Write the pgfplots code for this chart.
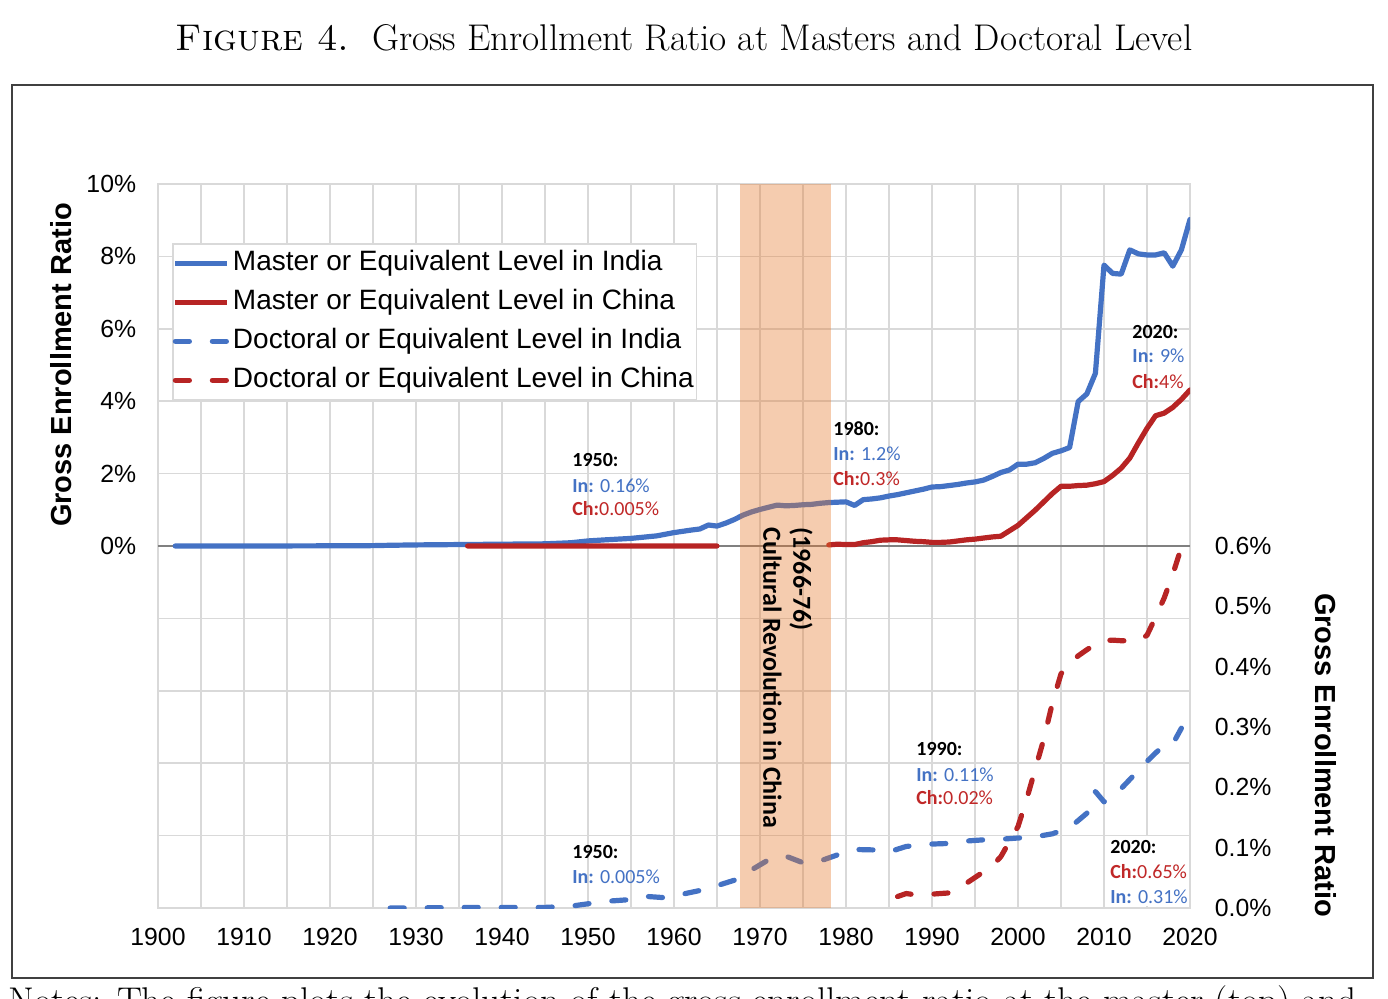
\documentclass[border=0pt]{standalone}
\usepackage{pgfplots}
\pgfplotsset{compat=1.18}
\usepackage{fontspec}
\newfontfamily\arial{Liberation Sans}
\newfontfamily\calibri{Carlito}
\definecolor{inblue}{RGB}{68,114,196}
\definecolor{chred}{RGB}{183,36,36}
\definecolor{chtext}{RGB}{192,40,40}
\definecolor{peach}{RGB}{228,120,45}
\definecolor{gridgray}{RGB}{217,217,217}

\pgfplotstableread{
year val
1902 0
1910 0
1920 0.005
1925 0.01
1927 0.02
1930 0.03
1935 0.04
1940 0.05
1945 0.06
1948 0.09
1950 0.14
1952 0.17
1955 0.21
1958 0.28
1960 0.37
1962 0.44
1963 0.47
1964 0.58
1965 0.55
1966 0.63
1967 0.73
1968 0.85
1969 0.94
1970 1.01
1971 1.07
1972 1.13
1973 1.11
1974 1.12
1975 1.14
1976 1.15
1977 1.18
1978 1.20
1979 1.21
1980 1.22
1981 1.12
1982 1.28
1983 1.30
1984 1.33
1985 1.38
1986 1.42
1987 1.47
1988 1.52
1989 1.57
1990 1.63
1991 1.64
1992 1.67
1993 1.70
1994 1.74
1995 1.77
1996 1.82
1997 1.92
1998 2.03
1999 2.10
2000 2.26
2001 2.26
2002 2.30
2003 2.42
2004 2.56
2005 2.63
2006 2.72
2007 3.99
2008 4.20
2009 4.77
2010 7.76
2011 7.53
2012 7.51
2013 8.18
2014 8.07
2015 8.04
2016 8.04
2017 8.10
2018 7.73
2019 8.18
2020 9.02
}\inmaster

\pgfplotstableread{
year val
1936 0.0
1945 0.0
1955 0.0
1965 0.0
1970 nan
1978 0.03
1979 0.05
1980 0.04
1981 0.04
1982 0.09
1983 0.12
1984 0.16
1985 0.17
1986 0.17
1987 0.15
1988 0.13
1989 0.12
1990 0.10
1991 0.10
1992 0.11
1993 0.14
1994 0.17
1995 0.19
1996 0.22
1997 0.25
1998 0.27
1999 0.42
2000 0.57
2001 0.78
2002 0.99
2003 1.22
2004 1.45
2005 1.65
2006 1.65
2007 1.67
2008 1.68
2009 1.72
2010 1.78
2011 1.95
2012 2.15
2013 2.43
2014 2.85
2015 3.25
2016 3.60
2017 3.67
2018 3.83
2019 4.05
2020 4.31
}\chmaster

\pgfplotstableread{
year val
1927 0.000
1930 0.000
1935 0.001
1940 0.001
1945 0.001
1948 0.003
1950 0.007
1952 0.011
1955 0.014
1957 0.019
1959 0.017
1961 0.023
1963 0.029
1965 0.037
1967 0.046
1969 0.063
1971 0.080
1973 0.086
1975 0.075
1977 0.078
1979 0.088
1981 0.097
1984 0.096
1985 0.093
1987 0.102
1990 0.106
1992 0.107
1994 0.111
1996 0.113
1998 0.114
2000 0.116
2002 0.118
2004 0.123
2006 0.133
2008 0.157
2009 0.193
2010 0.176
2011 0.186
2012 0.198
2013 0.213
2014 0.228
2015 0.243
2016 0.257
2017 0.270
2018 0.272
2019 0.298
}\indoc

\pgfplotstableread{
year val
1986 0.019
1987 0.024
1988 0.022
1990 0.023
1992 0.025
1994 0.041
1996 0.060
1997 0.070
1998 0.085
1999 0.110
2000 0.135
2001 0.180
2002 0.230
2003 0.280
2004 0.340
2005 0.388
2006 0.406
2007 0.418
2008 0.428
2009 0.437
2010 0.443
2011 0.444
2012 0.443
2013 0.443
2014 0.443
2015 0.452
2016 0.482
2017 0.514
2018 0.553
2019 0.598
}\chdoc

\begin{document}
\begin{tikzpicture}
\useasboundingbox (0,0) rectangle (694pt,499pt);

\begin{scope}[x=0.5pt,y=-0.5pt,yshift=499pt]
\draw[black!75, line width=0.9pt] (12,85) rectangle (1373,978);
\node[anchor=base, inner sep=0pt, font=\fontsize{18.6}{22}\selectfont] at (684,51)
  {\textsc{Figure 4.}\ \ Gross Enrollment Ratio at Masters and Doctoral Level};
\node[anchor=base west, inner sep=0pt, font=\fontsize{18.6}{22}\selectfont] at (8,1013)
  {Notes: The figure plots the evolution of the gross enrollment ratio at the master (top) and};
\end{scope}

\begin{axis}[
  at={(79pt,45pt)}, anchor=south west,
  width=516pt, height=362pt, scale only axis,
  xmin=1900, xmax=2020, ymin=-10, ymax=10,
  xtick={1900,1910,...,2020},
  minor xtick={1905,1915,...,2015},
  ytick={-10,-8,...,10},
  yticklabels={,,,,,0\%,2\%,4\%,6\%,8\%,10\%},
  grid=both,
  major grid style={gridgray, line width=0.75pt},
  minor grid style={gridgray, line width=0.75pt},
  axis line style={gridgray, line width=0.75pt},
  tick style={draw=none},
  /pgf/number format/assume math mode=true,
  /pgf/number format/1000 sep={},
  xticklabel style={font=\arial\fontsize{12.4}{14}\selectfont, yshift=-6.7pt},
  yticklabel style={font=\arial\fontsize{12.4}{14}\selectfont, xshift=-7.4pt},
  unbounded coords=jump,
]
\draw[black!50, line width=0.6pt] (axis cs:1900,0) -- (axis cs:2020,0);
\addplot[inblue, line width=2.6pt, line join=round, line cap=round] table[x=year, y=val] {\inmaster};
\addplot[chred, line width=2.6pt, line join=round, line cap=round] table[x=year, y=val] {\chmaster};
\end{axis}

\begin{axis}[
  at={(79pt,45pt)}, anchor=south west,
  width=516pt, height=362pt, scale only axis,
  xmin=1900, xmax=2020, ymin=0, ymax=1.2,
  axis x line=none, axis y line*=right,
  axis line style={draw=none},
  tick style={draw=none},
  ytick={0,0.1,0.2,0.3,0.4,0.5,0.6},
  yticklabels={0.0\%,0.1\%,0.2\%,0.3\%,0.4\%,0.5\%,0.6\%},
  yticklabel style={font=\arial\fontsize{12.4}{14}\selectfont, xshift=8.9pt},
  legend cell align=left,
  legend image code/.code={\draw[#1] (0pt,0pt) -- (26pt,0pt);},
  legend style={at={(0.0136,0.9185)}, anchor=north west,
    draw=gridgray, line width=0.75pt, fill=white,
    inner xsep=0pt, inner ysep=0pt, column sep=0pt, row sep=0pt,
    font=\arial\fontsize{14}{16}\selectfont,
    nodes={inner xsep=1.5pt, inner ysep=3pt, text height=10.5pt, text depth=3pt}},
]
\addlegendimage{inblue, line width=2.6pt}
\addlegendentry{Master or Equivalent Level in India}
\addlegendimage{chred, line width=2.6pt}
\addlegendentry{Master or Equivalent Level in China}
\addplot[inblue, line width=2.6pt, line join=round, line cap=round, dash pattern=on 7pt off 11.5pt] table[x=year, y=val] {\indoc};
\addlegendentry{Doctoral or Equivalent Level in India}
\addplot[chred, line width=2.6pt, line join=round, line cap=round, dash pattern=on 7pt off 11.5pt] table[x=year, y=val] {\chdoc};
\addlegendentry{Doctoral or Equivalent Level in China}
\fill[peach, fill opacity=0.38] (axis cs:1967.7,0) rectangle (axis cs:1978.3,1.2);
\end{axis}

\begin{scope}[x=0.5pt,y=-0.5pt,yshift=499pt]
% axis titles
\node[rotate=90, inner sep=0pt, font=\arial\bfseries\fontsize{14.5}{17}\selectfont] at (61,365) {Gross Enrollment Ratio};
\node[rotate=-90, inner sep=0pt, font=\arial\bfseries\fontsize{14.5}{17}\selectfont] at (1326,755) {Gross Enrollment Ratio};
% Cultural revolution
\node[rotate=-90, anchor=north west, align=left, inner sep=0pt, font=\calibri\bfseries\fontsize{13}{15}\selectfont] at (813,527)
  {(1966-76)\\Cultural Revolution in China};
% annotations
\tikzset{ann/.style={anchor=base west, inner sep=0pt, font=\calibri\fontsize{10}{12}\selectfont}}
\node[ann] at (572,467) {\textbf{1950:}};
\node[ann, text=inblue] at (572,492) {\textbf{In:} 0.16\%};
\node[ann, text=chtext] at (572,516) {\textbf{Ch:}0.005\%};

\node[ann] at (833,436) {\textbf{1980:}};
\node[ann, text=inblue] at (833,460) {\textbf{In:} 1.2\%};
\node[ann, text=chtext] at (833,485) {\textbf{Ch:}0.3\%};

\node[ann] at (1132,339) {\textbf{2020:}};
\node[ann, text=inblue] at (1132,363) {\textbf{In:} 9\%};
\node[ann, text=chtext] at (1132,388) {\textbf{Ch:}4\%};

\node[ann] at (916,755) {\textbf{1990:}};
\node[ann, text=inblue] at (916,781) {\textbf{In:} 0.11\%};
\node[ann, text=chtext] at (916,804) {\textbf{Ch:}0.02\%};

\node[ann] at (572,858) {\textbf{1950:}};
\node[ann, text=inblue] at (572,883) {\textbf{In:} 0.005\%};

\fill[white] (1107,836) rectangle (1189,906);
\node[ann] at (1110,853) {\textbf{2020:}};
\node[ann, text=chtext] at (1110,878) {\textbf{Ch:}0.65\%};
\node[ann, text=inblue] at (1110,903) {\textbf{In:} 0.31\%};
\end{scope}
\end{tikzpicture}
\end{document}
